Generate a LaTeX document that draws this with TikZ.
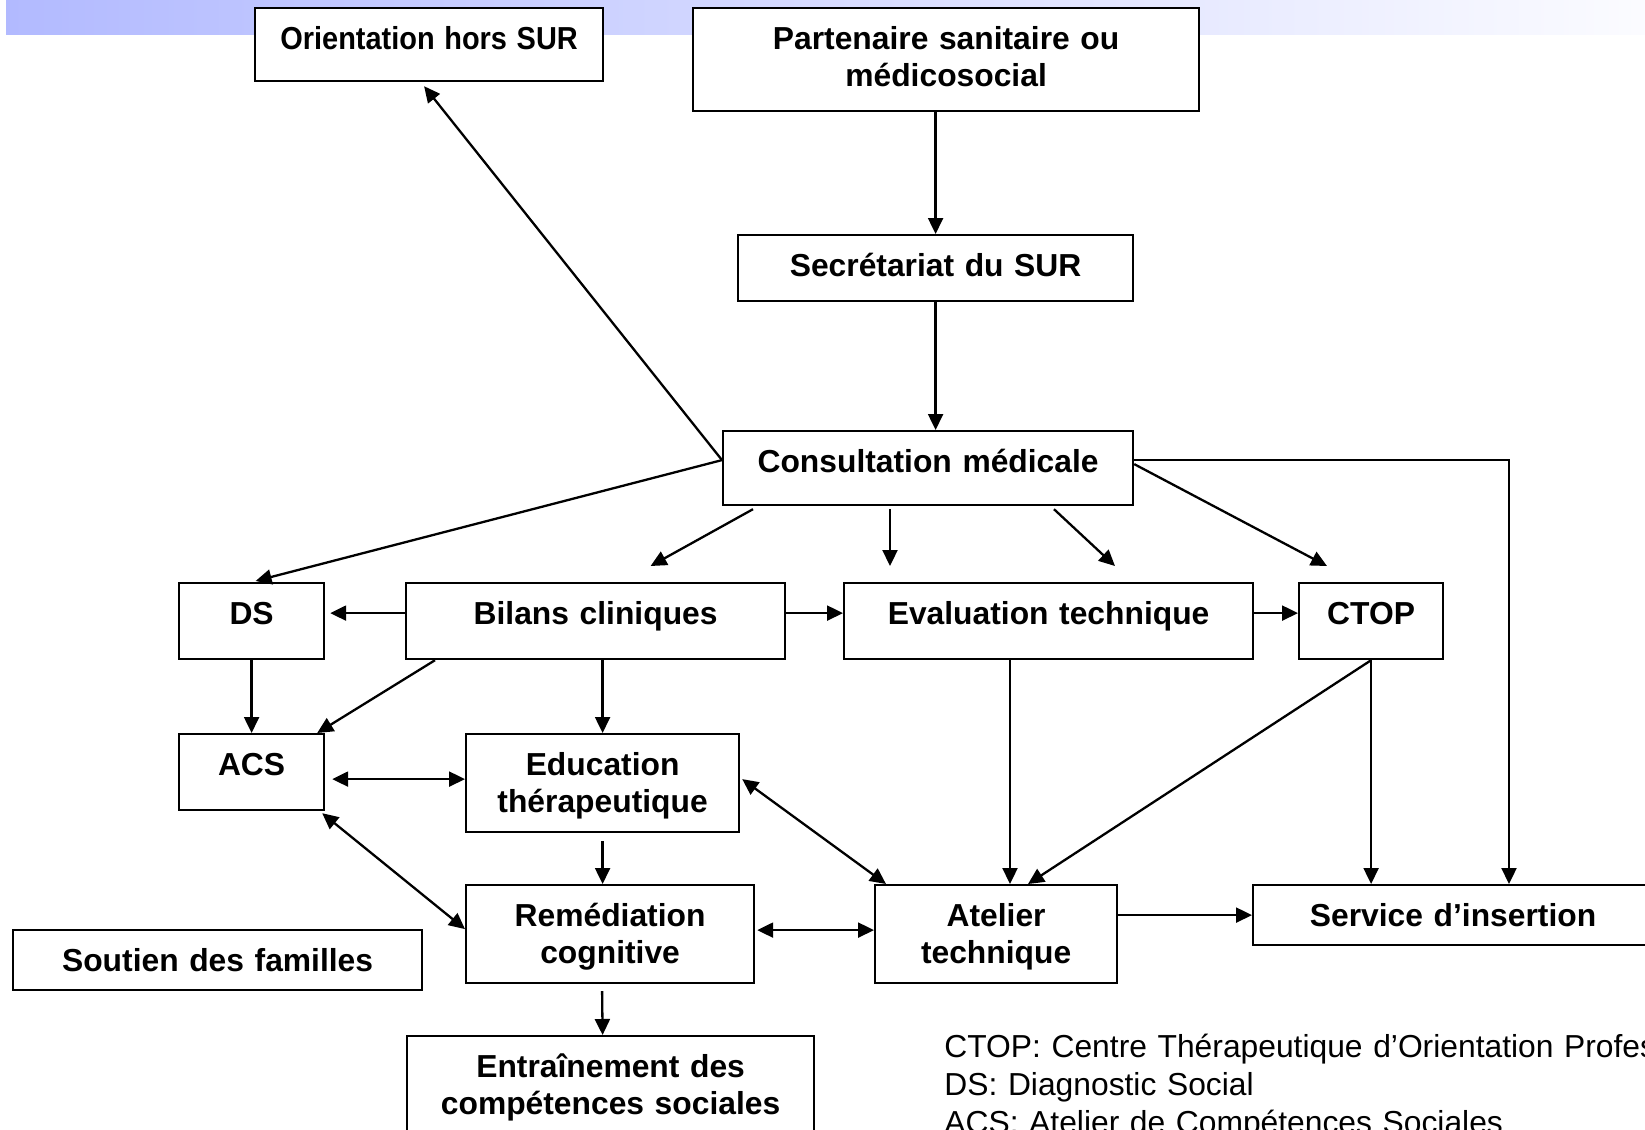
\documentclass[tikz,border=0pt]{standalone}
\usepackage{fontspec}
\setmainfont{Liberation Sans}
\usepackage{xcolor}
\usetikzlibrary{arrows.meta,positioning,calc}
\definecolor{bandblue}{RGB}{178,186,255}

\begin{document}
\begin{tikzpicture}[
  x=0.5pt, y=-0.5pt,
  flowbox/.style={draw, line width=1.1pt, fill=white, inner sep=0pt, align=center, anchor=north west,
    font=\fontsize{15.9}{18.5}\selectfont\bfseries,
    execute at begin node={\rule{0pt}{20.7pt}}, execute at end node={\rule[-#1]{0pt}{#1}}},
  abbrev/.style={inner sep=0pt, align=left, anchor=north west, text width=420pt,
    font=\fontsize{15.9}{18.8}\selectfont, execute at begin node={\rule{0pt}{20.7pt}}},
  arrow/.style={-{Triangle[length=8pt,width=7.5pt]}, line width=1.15pt},
  twoway/.style={{Triangle[length=8pt,width=7.5pt]}-{Triangle[length=8pt,width=7.5pt]}, line width=1.15pt}
]
  \path[use as bounding box] (0,0) rectangle (1645,1130);
  \clip (0,0) rectangle (1645,1130);
  \fill[white] (0,0) rectangle (1645,1130);
  % title band
  \shade[left color=bandblue, right color=bandblue!5] (6,0) rectangle (1645,34);

  % Top: entry of the patient
  \node[flowbox=15.8pt, text width=174pt] (orient) at (254,7) {\scalebox{0.91}[1]{Orientation hors SUR}};
  \node[flowbox=12.3pt, text width=253pt] (part) at (692,7) {Partenaire sanitaire ou\\médicosocial};
  \node[flowbox=12.3pt, text width=197.5pt] (secr) at (737,234) {Secrétariat du SUR};
  \node[flowbox=16.3pt, text width=205pt] (cons) at (722,430) {Consultation médicale};

  % Evaluations
  \node[flowbox=17.3pt, text width=72.5pt] (ds) at (178,582) {DS};
  \node[flowbox=17.3pt, text width=189.5pt] (bil) at (405,582) {Bilans cliniques};
  \node[flowbox=17.3pt, text width=204.5pt] (eval) at (843,582) {Evaluation technique};
  \node[flowbox=17.3pt, text width=72pt] (ctop) at (1298,582) {CTOP};

  % Care modules
  \node[flowbox=17.3pt, text width=72.5pt] (acs) at (178,733) {ACS};
  \node[flowbox=9.8pt, text width=136.5pt] (edu) at (465,733) {Education\\thérapeutique};
  \node[flowbox=9.8pt, text width=144pt] (rem) at (465,884) {Remédiation\\cognitive};
  \node[flowbox=9.8pt, text width=121pt] (atel) at (874,884) {Atelier\\technique};
  \node[flowbox=9.3pt, text width=200pt] (serv) at (1252,884) {Service d’insertion};
  \node[flowbox=9.3pt, text width=204.5pt] (sout) at (12,929) {Soutien des familles};
  \node[flowbox=15.8pt, text width=203.5pt] (entr) at (406,1035) {Entraînement des\\compétences sociales};

  % Abbreviations
  \node[abbrev] (legend) at (944,1016) {CTOP: Centre Thérapeutique d’Orientation Professionnelle\\DS: Diagnostic Social\\ACS: Atelier de Compétences Sociales};

  % entry flow
  \draw[arrow] (secr.north |- part.south) -- (secr.north);
  \draw[arrow] (secr.south) -- (secr.south |- cons.north);

  % from the consultation
  \draw[arrow] ($(cons.west)+(0,-8)$) -- ($(orient.south)+(-5,4)$);
  \draw[arrow] ($(cons.west)+(0,-8)$) -- ($(ds.north)+(4,-1)$);
  \draw[arrow] ($(cons.south west)+(31,3)$) -- ($(bil.north)+(55,-16)$);
  \draw[arrow] ($(cons.south west)+(168,3)$) -- ($(eval.north west)+(47,-16)$);
  \draw[arrow] ($(cons.south west)+(332,3)$) -- ($(eval.north west)+(272,-16)$);
  \draw[arrow] ($(cons.east)+(0,-4)$) -- ($(ctop.north west)+(29,-16)$);
  \draw[arrow] ($(cons.east)+(0,-8)$) -| ($(serv.north west)+(257,0)$);

  % evaluation row
  \draw[arrow] ($(bil.west)+(0,-8)$) -- ($(ds.east)+(5,-8)$);
  \draw[arrow] ($(bil.east)+(0,-8)$) -- ($(eval.west)+(0,-8)$);
  \draw[arrow] ($(eval.east)+(0,-8)$) -- ($(ctop.west)+(0,-8)$);
  \draw[arrow] (ds) -- (acs);
  \draw[arrow] ($(bil.south west)+(30,0)$) -- ($(acs.north east)+(-8,0)$);
  \draw[arrow] (edu.north |- bil.south) -- (edu.north);

  % care modules
  \draw[twoway] ($(acs.east)+(7,7)$) -- ($(edu.west)+(0,-4)$);
  \draw[twoway] ($(acs.south east)+(-3,2)$) -- ($(rem.west)+(0,-5)$);
  \draw[arrow] ($(edu.south)+(0,8)$) -- (edu.south |- rem.north);
  \draw[twoway] ($(edu.east)+(2,-4)$) -- ($(atel.north west)+(12,0)$);
  \draw[twoway] ($(rem.east)+(2,-4)$) -- ($(atel.west)+(0,-4)$);
  \draw[arrow] ($(eval.south west)+(167,0)$) -- ($(atel.north west)+(136,0)$);
  \draw[arrow] (ctop.south) -- ($(atel.north west)+(154,0)$);
  \draw[arrow] (ctop.south) -- (ctop.south |- serv.north);
  \draw[arrow] (atel.east |- serv.west) -- (serv.west);
  \draw[arrow] ($(rem.south)+(-8,7)$) -- ($(entr.north)+(-8,0)$);
\end{tikzpicture}
\end{document}
